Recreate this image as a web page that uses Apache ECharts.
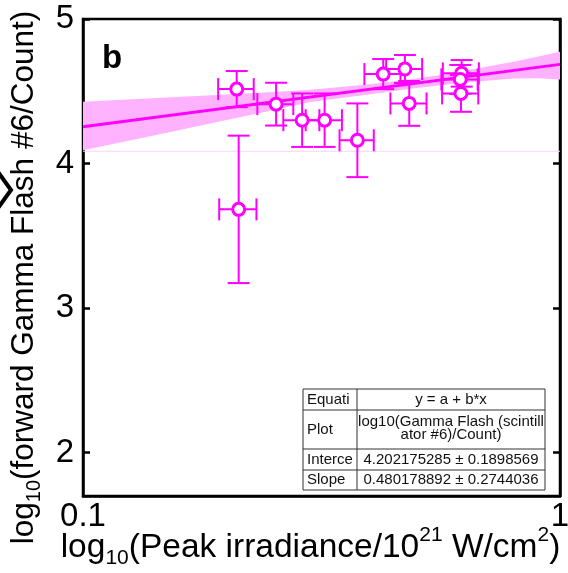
<!DOCTYPE html>
<html><head><meta charset="utf-8">
<script src="https://cdn.jsdelivr.net/npm/echarts@6/dist/echarts.min.js"></script>
<style>html,body{margin:0;padding:0;background:#fff}#c{width:568px;height:573px}</style>
</head><body><div id="c"></div>
<script>
// ---- data ----
const pointX = [0.210, 0.212, 0.254, 0.288, 0.321, 0.376, 0.426, 0.473, 0.483, 0.620, 0.622, 0.618];
const pointY = [4.515, 3.683, 4.411, 4.300, 4.300, 4.161, 4.619, 4.654, 4.416, 4.485, 4.624, 4.582];
const xErr   = [0.018, 0.019, 0.022, 0.025, 0.028, 0.031, 0.037, 0.041, 0.042, 0.054, 0.054, 0.054];
const yErr   = [0.125, 0.510, 0.148, 0.185, 0.185, 0.255, 0.104, 0.097, 0.155, 0.127, 0.092, 0.100];
const fitX   = [0.1, 1];
const fitY   = [4.254, 4.686];
const bandX    = [0.1,   0.15,  0.2,   0.25,  0.3,   0.4,   0.5,   0.6,   0.7,   0.8,   0.9,   1.0];
const bandLow  = [4.092, 4.213, 4.302, 4.369, 4.425, 4.479, 4.523, 4.552, 4.572, 4.588, 4.590, 4.582];
const bandHigh = [4.427, 4.457, 4.478, 4.495, 4.510, 4.549, 4.589, 4.628, 4.669, 4.704, 4.740, 4.773];
const faintLineY = 4.085;
const xTicks = [0.1, 1];
const yTicks = [2, 3, 4, 5];
const tableRows = [
  ['Equati', ['y = a + b*x']],
  ['Plot', ['log10(Gamma Flash (scintill', 'ator #6)/Count)']],
  ['Interce', ['4.202175285 ± 0.1898569']],
  ['Slope', ['0.480178892 ± 0.2744036']]
];

const MAG = '#ff00ff';
const FONT = '"Liberation Sans", Arial, sans-serif';

const chart = echarts.init(document.getElementById('c'), null, {renderer: 'canvas'});

const errData = pointX.map((x, i) => [x, pointY[i], x - xErr[i], x + xErr[i], pointY[i] - yErr[i], pointY[i] + yErr[i]]);

function rich(fs, ss) {
  return {
    n:   {fontSize: fs, fontFamily: FONT, color: '#000', lineHeight: 38},
    sub: {fontSize: ss, fontFamily: FONT, color: '#000', lineHeight: 38, padding: [20, 0, 0, 0]},
    sup: {fontSize: ss, fontFamily: FONT, color: '#000', lineHeight: 38, padding: [0, 0, 26, 0]}
  };
}

// table graphic
const T = {x: 303, y: 389, w: 242, div: 357, rows: [389, 410, 449, 470, 490]};
const tableEls = [];
tableEls.push({type: 'rect', shape: {x: T.x, y: T.y, width: T.w, height: T.rows[4] - T.rows[0]},
  style: {fill: '#fff', stroke: '#333', lineWidth: 1}, z: 100});
tableEls.push({type: 'line', shape: {x1: T.div, y1: T.rows[0], x2: T.div, y2: T.rows[4]}, style: {stroke: '#333', lineWidth: 1}, z: 101});
for (let r = 1; r < 4; r++) {
  tableEls.push({type: 'line', shape: {x1: T.x, y1: T.rows[r], x2: T.x + T.w, y2: T.rows[r]}, style: {stroke: '#333', lineWidth: 1}, z: 101});
}
tableRows.forEach((row, r) => {
  const cy = (T.rows[r] + T.rows[r + 1]) / 2;
  tableEls.push({type: 'text', x: T.x + 4, y: cy, z: 102,
    style: {text: row[0], font: '15px ' + FONT, fill: '#111', textAlign: 'left', textVerticalAlign: 'middle'}});
  const lines = row[1];
  lines.forEach((t, k) => {
    const off = lines.length === 1 ? 0 : (k === 0 ? -8 : 5.5);
    tableEls.push({type: 'text', x: (T.div + T.x + T.w) / 2, y: cy + off, z: 102,
      style: {text: t, font: '15px ' + FONT, fill: '#111', textAlign: 'center', textVerticalAlign: 'middle'}});
  });
});

const option = {
  animation: false,
  backgroundColor: '#fff',
  grid: {left: 83, right: 8, top: 19, bottom: 77, outerBoundsMode: 'none', containLabel: false,
    show: true, borderColor: '#000', borderWidth: 2.5, backgroundColor: 'transparent'},
  xAxis: {
    type: 'log', logBase: 10, min: xTicks[0], max: xTicks[xTicks.length - 1],
    axisLine: {show: true, lineStyle: {color: '#000', width: 2.5}},
    axisTick: {show: false},
    minorTick: {show: false},
    splitLine: {show: false},
    axisLabel: {fontSize: 33, fontFamily: FONT, color: '#000', margin: 4,
      formatter: v => (Math.abs(v - 1) < 1e-9 ? '1' : '0.1')},
    name: '{n|log}{sub|10}{n|(Peak irradiance/10}{sup|21}{n| W/cm}{sup|2}{n|)}',
    nameLocation: 'middle', nameGap: 33, nameMoveOverlap: false,
    nameTextStyle: {rich: rich(33.5, 21), padding: [0, 22, 0, 0]}
  },
  yAxis: [{
    type: 'value', min: 1.7, max: 5,
    axisLine: {show: true, lineStyle: {color: '#000', width: 2.5}},
    axisTick: {show: true, inside: true, length: 7, lineStyle: {color: '#000', width: 2.5}, customValues: yTicks},
    splitLine: {show: false},
    axisLabel: {fontSize: 33, fontFamily: FONT, color: '#000', margin: 9, customValues: yTicks},
    name: '{n|log}{sub|10}{n|(forward Gamma Flash #6/Count)}',
    nameLocation: 'middle', nameGap: 40, nameMoveOverlap: false,
    nameTextStyle: {rich: rich(31.5, 20), padding: [0, 40, 0, 0]}
  }, {
    type: 'value', min: 1.7, max: 5, position: 'right',
    axisLine: {show: true, lineStyle: {color: '#000', width: 2.5}},
    axisTick: {show: true, inside: true, length: 7, lineStyle: {color: '#000', width: 2.5}, customValues: yTicks},
    axisLabel: {show: false}, splitLine: {show: false}
  }],
  series: [
    {
      type: 'custom', name: 'band', z: 1, silent: true,
      data: [[bandX[0], bandLow[0]]],
      renderItem: (params, api) => {
        const pts = [];
        for (let i = 0; i < bandX.length; i++) pts.push(api.coord([bandX[i], bandHigh[i]]));
        for (let i = bandX.length - 1; i >= 0; i--) pts.push(api.coord([bandX[i], bandLow[i]]));
        return {type: 'polygon', shape: {points: pts}, style: {fill: '#ffb3ff', stroke: null}};
      }
    },
    {
      type: 'line', name: 'faint', z: 1, silent: true, symbol: 'none',
      data: [[xTicks[0], faintLineY], [xTicks[1], faintLineY]],
      lineStyle: {color: '#fbd3fb', width: 1}
    },
    {
      type: 'line', name: 'fit', z: 2, silent: true, symbol: 'none',
      data: fitX.map((x, i) => [x, fitY[i]]),
      lineStyle: {color: MAG, width: 3}
    },
    {
      type: 'custom', name: 'err', z: 3, silent: true,
      data: errData,
      encode: {x: 0, y: 1},
      renderItem: (params, api) => {
        const l = api.coord([api.value(2), api.value(1)]);
        const r = api.coord([api.value(3), api.value(1)]);
        const t = api.coord([api.value(0), api.value(5)]);
        const b = api.coord([api.value(0), api.value(4)]);
        const cap = 11;
        const st = {stroke: MAG, lineWidth: 2, fill: null};
        return {type: 'group', children: [
          {type: 'line', shape: {x1: l[0], y1: l[1], x2: r[0], y2: r[1]}, style: st},
          {type: 'line', shape: {x1: l[0], y1: l[1] - cap, x2: l[0], y2: l[1] + cap}, style: st},
          {type: 'line', shape: {x1: r[0], y1: r[1] - cap, x2: r[0], y2: r[1] + cap}, style: st},
          {type: 'line', shape: {x1: t[0], y1: t[1], x2: b[0], y2: b[1]}, style: st},
          {type: 'line', shape: {x1: t[0] - cap, y1: t[1], x2: t[0] + cap, y2: t[1]}, style: st},
          {type: 'line', shape: {x1: b[0] - cap, y1: b[1], x2: b[0] + cap, y2: b[1]}, style: st}
        ]};
      }
    },
    {
      type: 'scatter', name: 'points', z: 4, silent: true,
      data: pointX.map((x, i) => [x, pointY[i]]),
      symbol: 'circle', symbolSize: 12,
      itemStyle: {color: '#fff', borderColor: MAG, borderWidth: 3, opacity: 1}
    }
  ],
  graphic: [
    {type: 'text', x: 102, y: 42, z: 50,
      style: {text: 'b', font: 'bold 33px ' + FONT, fill: '#000', textAlign: 'left', textVerticalAlign: 'top'}},
    {type: 'polyline', z: 50, shape: {points: [[-2, 172], [11, 190], [-2, 208]]},
      style: {stroke: '#000', lineWidth: 4, fill: null}}
  ].concat(tableEls)
};
chart.setOption(option);
</script>
</body></html>
